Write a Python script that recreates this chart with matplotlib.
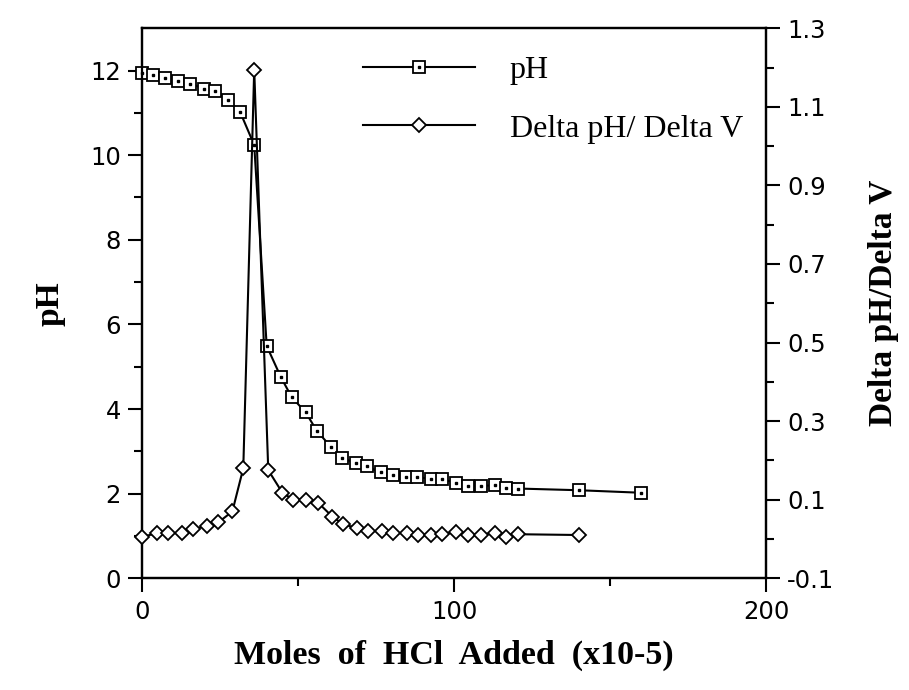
import matplotlib
matplotlib.use("Agg")
import matplotlib.pyplot as plt
from matplotlib.ticker import FixedLocator

# ---- data ----
ph_x = [0, 3.5, 7.5, 11.5, 15.5, 20, 23.5, 27.5, 31.5, 36, 40, 44.5, 48, 52.5, 56,
        60.5, 64, 68.5, 72, 76.5, 80.5, 84.5, 88, 92.5, 96, 100.5, 104.5, 108.5,
        113, 116.5, 120.5, 140, 160]
ph_y = [11.95, 11.9, 11.82, 11.76, 11.69, 11.57, 11.52, 11.3, 11.02, 10.24, 5.49,
        4.76, 4.28, 3.92, 3.49, 3.11, 2.85, 2.72, 2.65, 2.5, 2.45, 2.4, 2.4, 2.34,
        2.34, 2.26, 2.19, 2.18, 2.2, 2.13, 2.12, 2.08, 2.02]

d_x = [0, 5, 8.5, 13, 16.5, 21, 24.5, 29, 32.5, 36, 40.5, 45, 48.5, 52.5, 56.5,
       61, 64.5, 69, 72.5, 77, 80.5, 85, 88.5, 92.5, 96, 100.5, 104.5, 108.5, 113,
       116.5, 120.5, 140]
d_y = [0.005, 0.015, 0.015, 0.015, 0.025, 0.033, 0.042, 0.07, 0.18, 1.195, 0.175,
       0.118, 0.1, 0.1, 0.092, 0.057, 0.037, 0.028, 0.02, 0.02, 0.014, 0.016, 0.011,
       0.01, 0.012, 0.017, 0.011, 0.011, 0.015, 0.005, 0.012, 0.01]

x_ticks = [0, 100, 200]
x_minor = [50, 150]
left_ticks = [0, 2, 4, 6, 8, 10, 12]
left_minor = [1, 3, 5, 7, 9, 11]
right_ticks = [-0.1, 0.1, 0.3, 0.5, 0.7, 0.9, 1.1, 1.3]
right_tick_labels = ["-0.1", "0.1", "0.3", "0.5", "0.7", "0.9", "1.1", "1.3"]
right_minor = [0.0, 0.2, 0.4, 0.6, 0.8, 1.0, 1.2]

tick_font = "DejaVu Sans"
serif = "Liberation Serif"

fig = plt.figure(figsize=(9.09, 6.90), dpi=100)
ax = fig.add_axes([0.156, 0.162, 0.687, 0.797])
ax2 = ax.twinx()

lw = 1.5
# pH series: squares with a centre dot
ph_line, = ax.plot(ph_x, ph_y, color="black", lw=lw, marker="s", markersize=8.5,
                   markerfacecolor="white", markeredgecolor="black",
                   markeredgewidth=1.3, zorder=3, clip_on=False)
ph_dot, = ax.plot(ph_x, ph_y, linestyle="none", marker="s", markersize=1.7,
                  color="black", zorder=4, clip_on=False)
# delta series: diamonds on right axis
d_line, = ax2.plot(d_x, d_y, color="black", lw=lw, marker="D", markersize=7.5,
                   markerfacecolor="white", markeredgecolor="black",
                   markeredgewidth=1.3, zorder=3, clip_on=False)

ax.set_xlim(0, 200)
ax.set_ylim(0, 13)
ax2.set_ylim(-0.1, 1.3)

ax.xaxis.set_major_locator(FixedLocator(x_ticks))
ax.xaxis.set_minor_locator(FixedLocator(x_minor))
ax.yaxis.set_major_locator(FixedLocator(left_ticks))
ax.yaxis.set_minor_locator(FixedLocator(left_minor))
ax2.yaxis.set_major_locator(FixedLocator(right_ticks))
ax2.set_yticklabels(right_tick_labels)
ax2.yaxis.set_minor_locator(FixedLocator(right_minor))

for a in (ax, ax2):
    for s in a.spines.values():
        s.set_linewidth(1.6)
ax.tick_params(axis="both", which="major", direction="out", length=10, width=1.5,
               labelsize=17.5, pad=5)
ax.tick_params(axis="both", which="minor", direction="out", length=6, width=1.5)
ax.tick_params(axis="x", which="major", pad=6)
ax2.tick_params(axis="y", which="major", direction="out", length=10, width=1.5,
                labelsize=17.5, pad=5)
ax2.tick_params(axis="y", which="minor", direction="out", length=6, width=1.5)
for lab in ax.get_xticklabels() + ax.get_yticklabels() + ax2.get_yticklabels():
    lab.set_fontfamily(tick_font)

ax.set_xlabel("Moles  of  HCl  Added  (x10-5)", fontfamily=serif, fontweight="bold",
              fontsize=24.5, labelpad=11)
ax.set_ylabel("pH", fontfamily=serif, fontweight="bold", fontsize=24, labelpad=18)
ax2.set_ylabel("Delta pH/Delta V", fontfamily=serif, fontweight="bold", fontsize=24,
               labelpad=24)

leg = ax.legend([(ph_line, ph_dot), d_line], ["pH", "Delta pH/ Delta V"],
                loc="upper left", bbox_to_anchor=(0.308, 1.003), frameon=False,
                numpoints=1, handlelength=3.5, handletextpad=1.1, labelspacing=0.92,
                prop={"family": serif, "size": 23})

fig.savefig("out.png", dpi=100, facecolor="white")
